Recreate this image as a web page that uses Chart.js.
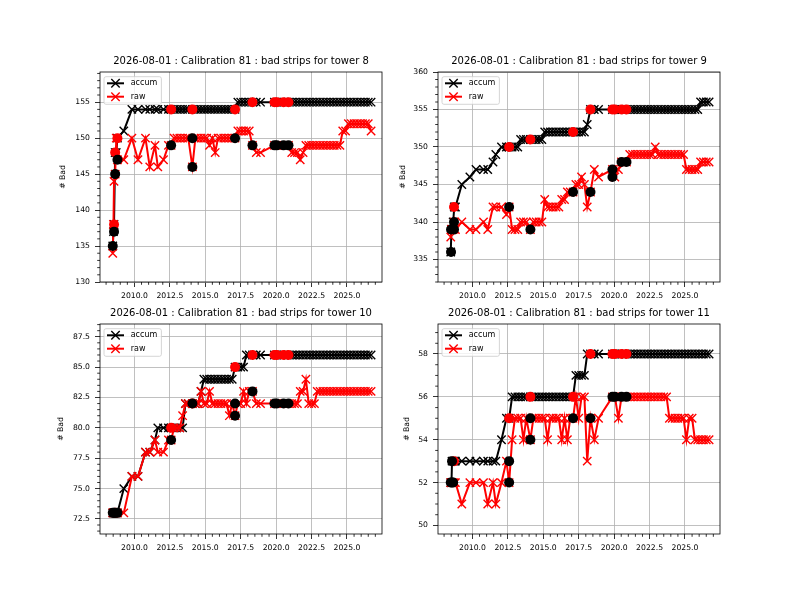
<!DOCTYPE html>
<html>
<head>
<meta charset="utf-8">
<script src="https://cdn.jsdelivr.net/npm/chart.js@4.4.1/dist/chart.umd.min.js"></script>
<style>
  html, body { margin: 0; padding: 0; background: #fff; }
  body { width: 800px; height: 600px; position: relative; overflow: hidden; }
  canvas { position: absolute; }
</style>
</head>
<body>
<canvas id="t8" width="352" height="264" style="left:38px;top:44px"></canvas>
<canvas id="t9" width="352" height="264" style="left:376px;top:44px"></canvas>
<canvas id="t10" width="352" height="264" style="left:38px;top:296px"></canvas>
<canvas id="t11" width="352" height="264" style="left:376px;top:296px"></canvas>
<script>
// calibration dates (decimal years), shared by all towers
const dates = [
  2008.47, 2008.52, 2008.56, 2008.64, 2008.72, 2008.80, 2009.25, 2009.82, 2010.25, 2010.78,
  2011.08, 2011.45, 2011.65, 2012.05, 2012.40, 2012.59, 2012.80, 2013.00, 2013.20, 2013.40,
  2013.60, 2013.80, 2014.09, 2014.30, 2014.50, 2014.70, 2014.90, 2015.10, 2015.30, 2015.50,
  2015.70, 2015.90, 2016.10, 2016.30, 2016.50, 2016.70, 2016.90, 2017.10, 2017.30, 2017.50,
  2017.70, 2017.90, 2018.10, 2018.33, 2018.60, 2018.90, 2019.88, 2020.05, 2020.30, 2020.52,
  2020.87, 2021.10, 2021.30, 2021.50, 2021.70, 2021.90, 2022.10, 2022.30, 2022.50, 2022.70,
  2022.90, 2023.10, 2023.30, 2023.50, 2023.70, 2023.90, 2024.10, 2024.30, 2024.50, 2024.70,
  2024.90, 2025.10, 2025.30, 2025.50, 2025.70, 2025.90, 2026.10, 2026.30, 2026.50, 2026.70
];

// tower 8
const accum8 = [
  135, 137, 138, 148, 148, 150, 151, 154, 154, 154,
  154, 154, 154, 154, 154, 154, 154, 154, 154, 154,
  154, 154, 154, 154, 154, 154, 154, 154, 154, 154,
  154, 154, 154, 154, 154, 154, 154, 154, 155, 155,
  155, 155, 155, 155, 155, 155, 155, 155, 155, 155,
  155, 155, 155, 155, 155, 155, 155, 155, 155, 155,
  155, 155, 155, 155, 155, 155, 155, 155, 155, 155,
  155, 155, 155, 155, 155, 155, 155, 155, 155, 155
];
const raw8 = [
  134, 138, 144, 145, 150, 147, 147, 150, 147, 150,
  146, 149, 146, 147, 149, 149, 150, 150, 150, 150,
  150, 150, 146, 150, 150, 150, 150, 150, 149, 150,
  148, 150, 150, 150, 150, 150, 150, 150, 151, 151,
  151, 151, 151, 149, 148, 148, 149, 149, 149, 149,
  149, 148, 148, 148, 147, 148, 149, 149, 149, 149,
  149, 149, 149, 149, 149, 149, 149, 149, 149, 151,
  151, 152, 152, 152, 152, 152, 152, 152, 152, 151
];
const black8 = [[2008.47, 135], [2008.56, 137], [2008.64, 145], [2008.80, 147], [2012.59, 149],
  [2014.09, 150], [2014.09, 146], [2017.10, 150], [2018.33, 149], [2019.88, 149], [2020.05, 149],
  [2020.52, 149], [2020.87, 149]];
const red8 = [[2008.56, 138], [2008.64, 148], [2008.80, 150], [2012.59, 154], [2014.09, 154],
  [2017.10, 154], [2018.33, 155], [2019.88, 155], [2020.05, 155], [2020.52, 155], [2020.87, 155]];

// tower 9
const accum9 = [
  336, 339, 339, 340, 342, 342, 345, 346, 347, 347,
  347, 348, 349, 350, 350, 350, 350, 350, 350, 351,
  351, 351, 351, 351, 351, 351, 351, 352, 352, 352,
  352, 352, 352, 352, 352, 352, 352, 352, 352, 352,
  352, 352, 353, 355, 355, 355, 355, 355, 355, 355,
  355, 355, 355, 355, 355, 355, 355, 355, 355, 355,
  355, 355, 355, 355, 355, 355, 355, 355, 355, 355,
  355, 355, 355, 355, 355, 355, 356, 356, 356, 356
];
const raw9 = [
  338, 339, 339, 339, 340, 339, 340, 339, 339, 340,
  339, 342, 342, 342, 341, 342, 339, 339, 339, 340,
  340, 340, 339, 340, 340, 340, 340, 343, 342, 342,
  342, 342, 342, 343, 343, 344, 344, 344, 345, 345,
  346, 345, 342, 344, 347, 346, 347, 346, 347, 348,
  348, 349, 349, 349, 349, 349, 349, 349, 349, 349,
  350, 349, 349, 349, 349, 349, 349, 349, 349, 349,
  349, 347, 347, 347, 347, 347, 348, 348, 348, 348
];
const black9 = [[2008.49, 336], [2008.49, 339], [2008.70, 339], [2008.70, 340], [2012.59, 342],
  [2014.09, 339], [2017.10, 344], [2018.33, 344], [2019.88, 347], [2019.88, 346], [2020.52, 348],
  [2020.87, 348]];
const red9 = [[2008.70, 342], [2012.59, 350], [2014.09, 351], [2017.10, 352], [2018.33, 355],
  [2019.88, 355], [2020.05, 355], [2020.52, 355], [2020.87, 355]];

// tower 10
const accum10 = [
  73, 73, 73, 73, 73, 73, 75, 76, 76, 78,
  78, 79, 80, 80, 80, 80, 80, 80, 80, 80,
  82, 82, 82, 82, 82, 83, 84, 84, 84, 84,
  84, 84, 84, 84, 84, 84, 84, 85, 85, 85,
  85, 86, 86, 86, 86, 86, 86, 86, 86, 86,
  86, 86, 86, 86, 86, 86, 86, 86, 86, 86,
  86, 86, 86, 86, 86, 86, 86, 86, 86, 86,
  86, 86, 86, 86, 86, 86, 86, 86, 86, 86
];
const raw10 = [
  73, 73, 73, 73, 73, 73, 73, 76, 76, 78,
  78, 79, 78, 78, 79, 79, 80, 80, 80, 81,
  82, 82, 82, 82, 82, 83, 82, 82, 83, 82,
  82, 82, 82, 82, 82, 81, 82, 81, 82, 82,
  83, 82, 83, 83, 82, 82, 82, 82, 82, 82,
  82, 82, 82, 82, 83, 83, 84, 82, 82, 82,
  83, 83, 83, 83, 83, 83, 83, 83, 83, 83,
  83, 83, 83, 83, 83, 83, 83, 83, 83, 83
];
const black10 = [[2008.47, 73], [2008.56, 73], [2008.64, 73], [2008.80, 73], [2012.59, 79],
  [2014.09, 82], [2017.10, 82], [2017.10, 81], [2018.33, 83], [2019.88, 82], [2020.05, 82],
  [2020.52, 82], [2020.87, 82]];
const red10 = [[2008.64, 73], [2012.59, 80], [2014.09, 82], [2017.10, 85], [2018.33, 86],
  [2019.88, 86], [2020.05, 86], [2020.52, 86], [2020.87, 86]];

// tower 11
const accum11 = [
  52, 52, 53, 53, 53, 53, 53, 53, 53, 53,
  53, 53, 53, 54, 55, 55, 56, 56, 56, 56,
  56, 56, 56, 56, 56, 56, 56, 56, 56, 56,
  56, 56, 56, 56, 56, 56, 56, 56, 57, 57,
  57, 57, 58, 58, 58, 58, 58, 58, 58, 58,
  58, 58, 58, 58, 58, 58, 58, 58, 58, 58,
  58, 58, 58, 58, 58, 58, 58, 58, 58, 58,
  58, 58, 58, 58, 58, 58, 58, 58, 58, 58
];
const raw11 = [
  52, 52, 52, 52, 52, 52, 51, 52, 52, 52,
  51, 52, 51, 52, 53, 52, 54, 55, 55, 55,
  54, 55, 54, 55, 55, 55, 55, 55, 54, 55,
  55, 55, 55, 54, 55, 54, 55, 55, 56, 55,
  56, 56, 53, 55, 54, 55, 56, 56, 55, 56,
  56, 56, 56, 56, 56, 56, 56, 56, 56, 56,
  56, 56, 56, 56, 56, 55, 55, 55, 55, 55,
  55, 54, 55, 55, 54, 54, 54, 54, 54, 54
];
const black11 = [[2008.47, 52], [2008.56, 52], [2008.64, 52], [2008.56, 53], [2012.59, 53],
  [2012.59, 52], [2014.09, 55], [2014.09, 54], [2017.10, 55], [2018.33, 55], [2019.88, 56],
  [2020.05, 56], [2020.52, 56], [2020.87, 56]];
const red11 = [[2008.70, 53], [2012.59, 55], [2014.09, 56], [2017.10, 56], [2018.33, 58],
  [2019.88, 58], [2020.05, 58], [2020.52, 58], [2020.87, 58]];

// axis ticks and ranges
const xTicks = [2010.0, 2012.5, 2015.0, 2017.5, 2020.0, 2022.5, 2025.0];
const xRange = [2007.57, 2027.47];
const yTicks8 = [130, 135, 140, 145, 150, 155];
const yTicks9 = [335, 340, 345, 350, 355, 360];
const yTicks10 = [72.5, 75.0, 77.5, 80.0, 82.5, 85.0, 87.5];
const yTicks11 = [50, 52, 54, 56, 58];

const calibDate = '2026-08-01';
const calibNum = 81;
const FONT = 'DejaVu Sans';

Chart.defaults.font.family = FONT;
Chart.defaults.color = '#000';

// frame + minor ticks, like matplotlib axes
const axesPlugin = {
  id: 'mplAxes',
  afterDatasetsDraw(chart, args, o) {
    const {ctx, chartArea: a, scales: {x, y}} = chart;
    const isMajor = (v, step) => Math.abs(v / step - Math.round(v / step)) < 1e-6;
    ctx.save();
    ctx.strokeStyle = '#000';
    ctx.lineWidth = 0.8;
    ctx.beginPath();
    for (let k = Math.ceil(x.min / o.xMinor); k * o.xMinor <= x.max; k++) {
      const v = k * o.xMinor;
      if (isMajor(v, o.xMajor)) continue;
      const px = x.getPixelForValue(v);
      ctx.moveTo(px, a.bottom);
      ctx.lineTo(px, a.bottom + 2.8);
    }
    for (let k = Math.ceil(y.min / o.yMinor); k * o.yMinor <= y.max; k++) {
      const v = k * o.yMinor;
      if (isMajor(v, o.yMajor)) continue;
      const py = y.getPixelForValue(v);
      ctx.moveTo(a.left, py);
      ctx.lineTo(a.left - 2.8, py);
    }
    ctx.stroke();
    ctx.strokeRect(a.left, a.top, a.right - a.left, a.bottom - a.top);
    ctx.restore();
  }
};

function drawCross(ctx, cx, cy, h) {
  ctx.moveTo(cx - h, cy - h); ctx.lineTo(cx + h, cy + h);
  ctx.moveTo(cx - h, cy + h); ctx.lineTo(cx + h, cy - h);
}

// legend box in the upper left of the axes
const legendPlugin = {
  id: 'mplLegend',
  afterDraw(chart) {
    const {ctx, chartArea: a} = chart;
    const items = chart.data.datasets.filter(d => d.label);
    const x = a.left + 4, y = a.top + 4.7, w = 57.4, h = 27.6, r = 2;
    ctx.save();
    ctx.beginPath();
    ctx.moveTo(x + r, y);
    ctx.arcTo(x + w, y, x + w, y + h, r);
    ctx.arcTo(x + w, y + h, x, y + h, r);
    ctx.arcTo(x, y + h, x, y, r);
    ctx.arcTo(x, y, x + w, y, r);
    ctx.closePath();
    ctx.fillStyle = 'rgba(255,255,255,0.8)';
    ctx.fill();
    ctx.strokeStyle = '#cccccc';
    ctx.lineWidth = 0.8;
    ctx.stroke();
    items.forEach((d, i) => {
      const yy = y + 6.6 + i * 13.4;
      ctx.strokeStyle = d.borderColor;
      ctx.lineWidth = 2;
      ctx.beginPath();
      ctx.moveTo(x + 3, yy);
      ctx.lineTo(x + 20, yy);
      ctx.stroke();
      ctx.lineWidth = 1.4;
      ctx.beginPath();
      drawCross(ctx, x + 11.5, yy, 4.2);
      ctx.stroke();
      ctx.fillStyle = '#000';
      ctx.font = '8px "' + FONT + '"';
      ctx.textBaseline = 'middle';
      ctx.textAlign = 'left';
      ctx.fillText(d.label, x + 26.7, yy);
    });
    ctx.restore();
  }
};

function lineSet(label, color, dates, vals, order) {
  return {
    label: label,
    data: dates.map((d, i) => ({x: d, y: vals[i]})),
    borderColor: color,
    backgroundColor: color,
    borderWidth: 2,
    pointStyle: 'crossRot',
    pointRadius: 5.9,
    pointBorderWidth: 1.4,
    pointBorderColor: color,
    pointHoverRadius: 5.9,
    fill: false,
    tension: 0,
    order: order
  };
}

function dotSet(color, pts, order) {
  return {
    type: 'scatter',
    data: pts.map(p => ({x: p[0], y: p[1]})),
    backgroundColor: color,
    borderColor: color,
    pointRadius: 5,
    pointBorderWidth: 0,
    order: order
  };
}

function drawTower(id, tower, accum, raw, blackDots, redDots, yMin, yMax, yTicks, yDec, yMinor, labelPad) {
  new Chart(document.getElementById(id), {
    type: 'line',
    data: {
      datasets: [
        lineSet('accum', 'black', dates, accum, 4),
        lineSet('raw', 'red', dates, raw, 3),
        dotSet('red', redDots, 2),
        dotSet('black', blackDots, 1)
      ]
    },
    options: {
      responsive: false,
      animation: false,
      events: [],
      layout: { padding: { left: 0, right: 8, top: 0, bottom: 0 } },
      plugins: {
        legend: { display: false },
        tooltip: { enabled: false },
        title: {
          display: true,
          fullSize: false,
          text: calibDate + ' : Calibration ' + calibNum + ' : bad strips for tower ' + tower,
          color: '#000',
          font: { family: FONT, size: 10, weight: 'normal' },
          padding: { top: 11, bottom: 5 }
        },
        mplAxes: { xMinor: 0.5, xMajor: 2.5, yMinor: yMinor, yMajor: yTicks[1] - yTicks[0] }
      },
      scales: {
        x: {
          type: 'linear',
          min: xRange[0],
          max: xRange[1],
          afterBuildTicks: s => { s.ticks = xTicks.map(v => ({value: v})); },
          afterFit: s => { s.height = 26; },
          ticks: {
            autoSkip: false, maxRotation: 0, padding: 4, color: '#000',
            font: { family: FONT, size: 7.7 },
            callback: v => Number(v).toFixed(1)
          },
          grid: { color: '#b0b0b0', lineWidth: 0.8, tickLength: 5, tickColor: '#000', tickWidth: 0.8 },
          border: { display: false }
        },
        y: {
          type: 'linear',
          min: yMin,
          max: yMax,
          afterBuildTicks: s => { s.ticks = yTicks.map(v => ({value: v})); },
          afterFit: s => { s.width = 62; },
          ticks: {
            autoSkip: false, padding: 5, color: '#000',
            font: { family: FONT, size: 7.7 },
            callback: v => Number(v).toFixed(yDec)
          },
          grid: { color: '#b0b0b0', lineWidth: 0.8, tickLength: 5, tickColor: '#000', tickWidth: 0.8 },
          border: { display: false },
          title: {
            display: true, text: '# Bad', color: '#000',
            font: { family: FONT, size: 7.7 },
            padding: { top: labelPad, bottom: 0 }
          }
        }
      }
    },
    plugins: [axesPlugin, legendPlugin]
  });
}

drawTower('t8', 8, accum8, raw8, black8, red8, 130, 159.2, yTicks8, 0, 1, 20.4);
drawTower('t9', 9, accum9, raw9, black9, red9, 332, 360, yTicks9, 0, 1, 22.4);
drawTower('t10', 10, accum10, raw10, black10, red10, 71.26, 88.55, yTicks10, 1, 0.5, 18.1);
drawTower('t11', 11, accum11, raw11, black11, red11, 49.6, 59.4, yTicks11, 0, 0.5, 26.1);
</script>
</body>
</html>
